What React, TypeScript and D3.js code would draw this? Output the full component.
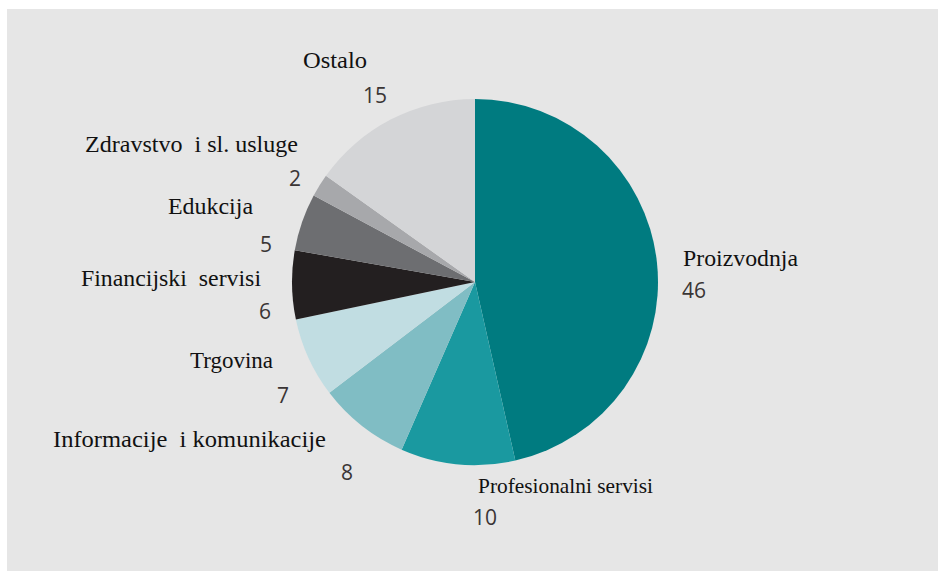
import React from "react";
import * as d3 from "d3";

const categories = [
  "Proizvodnja",
  "Profesionalni servisi",
  "Informacije  i komunikacije",
  "Trgovina",
  "Financijski  servisi",
  "Edukcija",
  "Zdravstvo  i sl. usluge",
  "Ostalo",
];
const values = [46, 10, 8, 7, 6, 5, 2, 15];
const colors = ["#007b80", "#1a99a0", "#80bdc4", "#c1dde2", "#231f20", "#6d6e71", "#a7a8ab", "#d4d5d7"];

// label layout: name position (x, baseline, width, anchor), value position
const labelLayout = [
  { nx: 683, ny: 266, nw: 115, fs: 24, vx: 682, vy: 298, va: "start" },
  { nx: 478, ny: 493, nw: 175, fs: 22, vx: 473, vy: 525, va: "start" },
  { nx: 53, ny: 447, nw: 273, fs: 24, vx: 353, vy: 480, va: "end" },
  { nx: 190, ny: 368, nw: 83, fs: 24, vx: 289, vy: 403, va: "end" },
  { nx: 81, ny: 286, nw: 180, fs: 24, vx: 271, vy: 319, va: "end" },
  { nx: 168, ny: 214, nw: 85, fs: 24, vx: 272, vy: 252, va: "end" },
  { nx: 85, ny: 152, nw: 213, fs: 24, vx: 301, vy: 186, va: "end" },
  { nx: 303, ny: 68, nw: 64, fs: 24, vx: 387, vy: 103, va: "end" },
];

export default function App() {
  const W = 938;
  const H = 574;
  const cx = 475;
  const cy = 282;
  const r = 183;
  const pie = d3.pie<number>().sort(null).value((d) => d);
  const arcs = pie(values);
  const arc = d3.arc<d3.PieArcDatum<number>>().innerRadius(0).outerRadius(r);

  return (
    <svg
      width={W}
      height={H}
      style={{ position: "absolute", left: 0, top: 0, display: "block" }}
    >
      <rect x={0} y={0} width={W} height={H} fill="#ffffff" />
      <rect x={7} y={9} width={W - 7} height={H - 12} fill="#e6e6e6" />
      <g transform={`translate(${cx},${cy})`}>
        {arcs.map((a, i) => (
          <path key={i} d={arc(a) || ""} fill={colors[i]} />
        ))}
      </g>
      {categories.map((c, i) => {
        const L = labelLayout[i];
        return (
          <g key={c}>
            <text
              x={L.nx}
              y={L.ny}
              fontFamily="'Liberation Serif', 'Times New Roman', serif"
              fontSize={L.fs}
              fill="#111111"
              textLength={L.nw}
              lengthAdjust="spacingAndGlyphs"
              style={{ whiteSpace: "pre" }}
            >
              {c}
            </text>
            <text
              x={L.vx}
              y={L.vy}
              textAnchor={L.va}
              fontFamily="'Open Sans', 'Noto Sans', sans-serif"
              fontSize={21}
              fill="#3a3535"
            >
              {values[i]}
            </text>
          </g>
        );
      })}
    </svg>
  );
}
